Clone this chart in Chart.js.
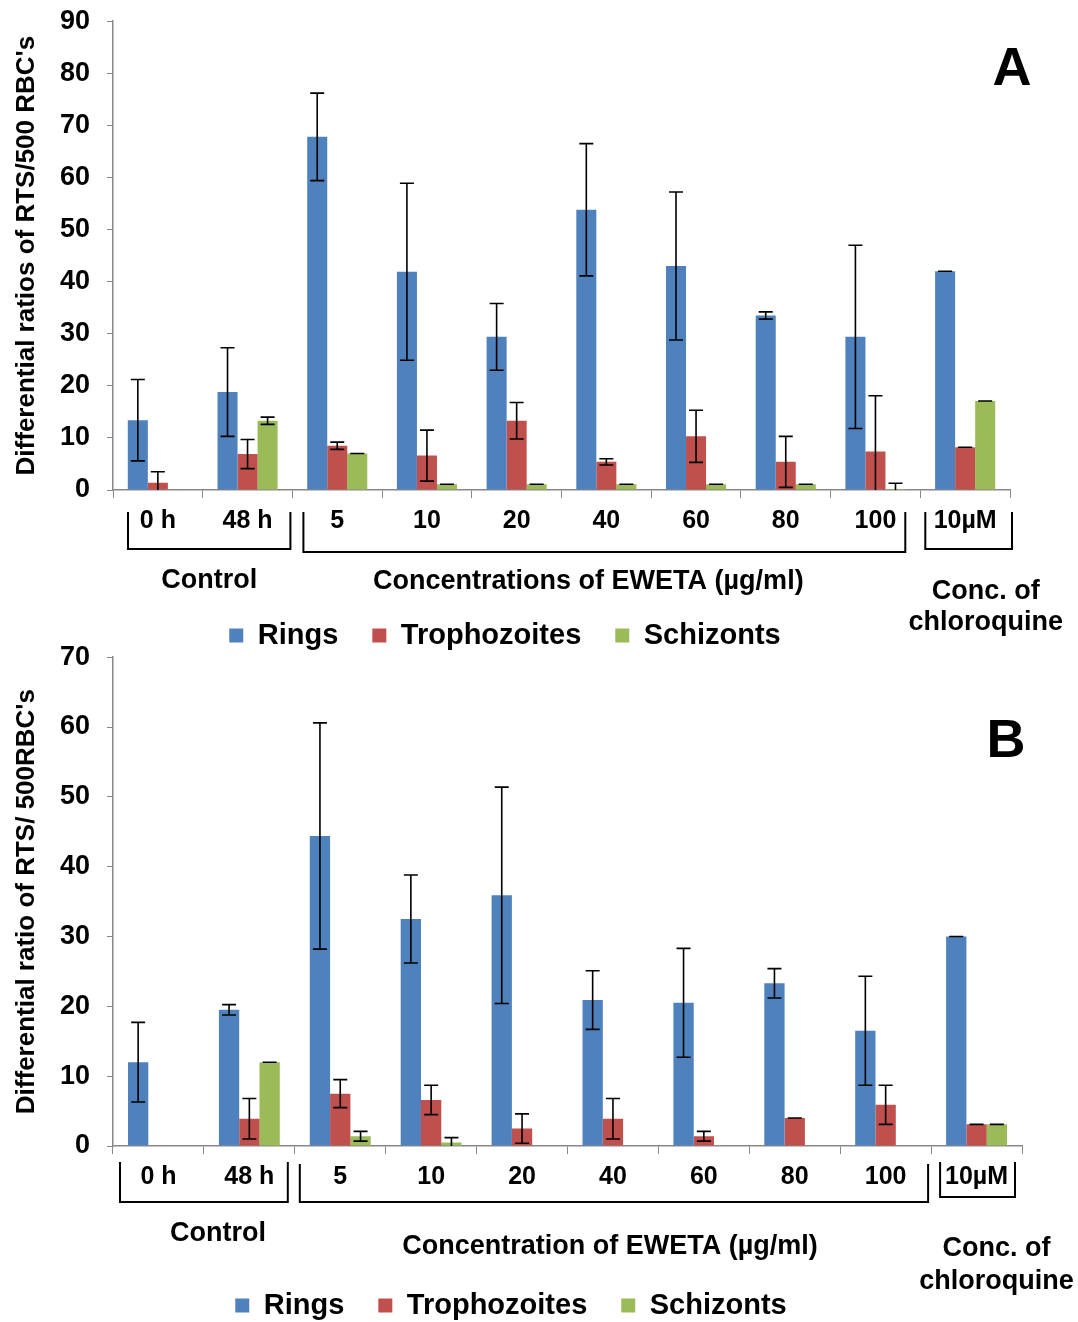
<!DOCTYPE html>
<html>
<head>
<meta charset="utf-8">
<script src="https://cdn.jsdelivr.net/npm/chart.js@4.4.0/dist/chart.umd.min.js"></script>
<style>
  html, body { margin: 0; padding: 0; background: #fff; overflow: hidden; width: 1078px; height: 1322px; }
  .panel { position: absolute; left: 0; width: 1078px; }
  #boxA { top: -12px; height: 672px; }
  #boxB { top: 624px; height: 706px; }
</style>
</head>
<body>
<div class="panel" id="boxA"><canvas id="chartA"></canvas></div>
<div class="panel" id="boxB"><canvas id="chartB"></canvas></div>
<script>
// categories (x axis)
const categories = ['0 h', '48 h', '5', '10', '20', '40', '60', '80', '100', '10µM'];
const seriesNames = ['Rings', 'Trophozoites', 'Schizonts'];

// panel A values + error (SD)
const ringsA     = [13.4, 18.8, 67.8, 41.9, 29.4, 53.8, 43.0, 33.5, 29.4, 42.0];
const ringsErrA  = [7.8, 8.5, 8.4, 17.0, 6.4, 12.7, 14.2, 0.7, 17.6, 0];
const trophA     = [1.4, 6.9, 8.5, 6.6, 13.3, 5.4, 10.3, 5.4, 7.4, 8.2];
const trophErrA  = [2.1, 2.8, 0.7, 4.9, 3.5, 0.6, 5.0, 4.9, 10.7, 0];
const schizA     = [0, 13.3, 7.0, 1.1, 1.1, 1.1, 1.1, 1.1, 0.2, 17.1];
const schizErrA  = [0, 0.7, 0, 0, 0, 0, 0, 0, 1.1, 0];

// panel B values + error (SD)
const ringsB     = [12.0, 19.5, 44.4, 32.5, 35.9, 20.9, 20.5, 23.3, 16.5, 30.0];
const ringsErrB  = [5.7, 0.75, 16.2, 6.3, 15.5, 4.2, 7.8, 2.1, 7.8, 0];
const trophB     = [0, 3.9, 7.5, 6.6, 2.5, 3.9, 1.4, 4.0, 5.9, 3.1];
const trophErrB  = [0, 2.9, 2.0, 2.1, 2.1, 2.9, 0.7, 0, 2.8, 0];
const schizB     = [0, 12.0, 1.4, 0.5, 0, 0, 0, 0, 0, 3.1];
const schizErrB  = [0, 0, 0.7, 0.7, 0, 0, 0, 0, 0, 0];

// group brackets under the axis
const groupSpans  = [[0, 1], [2, 8], [9, 9]];
const groupNamesA = [['Control'], ['Concentrations of EWETA (µg/ml)'], ['Conc. of', 'chloroquine']];
const groupNamesB = [['Control'], ['Concentration of EWETA (µg/ml)'], ['Conc. of', 'chloroquine']];

const yTitleA = "Differential ratios of RTS/500 RBC's";
const yTitleB = "Differential ratio of RTS/ 500RBC's";

const colors = ['#4F81BD', '#C0504D', '#9BBB59'];
const FONT = 'Arial, "Liberation Sans", sans-serif';

const errorBars = {
  id: 'errorBars',
  afterDatasetsDraw(chart) {
    const ctx = chart.ctx, y = chart.scales.y, area = chart.chartArea;
    ctx.save();
    ctx.beginPath();
    ctx.rect(area.left, 0, area.width, area.bottom);
    ctx.clip();
    ctx.strokeStyle = '#000';
    ctx.lineWidth = 1.6;
    chart.data.datasets.forEach((ds, i) => {
      chart.getDatasetMeta(i).data.forEach((bar, j) => {
        const v = ds.data[j], e = ds.errors[j];
        if (!v && !e) return;
        const top = y.getPixelForValue(v + e), bot = y.getPixelForValue(v - e);
        ctx.beginPath();
        ctx.moveTo(bar.x, top); ctx.lineTo(bar.x, bot);
        ctx.moveTo(bar.x - 7, top); ctx.lineTo(bar.x + 7, top);
        ctx.moveTo(bar.x - 7, bot); ctx.lineTo(bar.x + 7, bot);
        ctx.stroke();
      });
    });
    ctx.restore();
  }
};

const brackets = {
  id: 'brackets',
  afterDraw(chart, args, opts) {
    const ctx = chart.ctx, x = chart.scales.x, base = chart.chartArea.bottom;
    const step = x.width / chart.data.labels.length;
    const edge = i => x.left + i * step;
    ctx.save();
    ctx.strokeStyle = '#000';
    ctx.fillStyle = '#000';
    ctx.lineWidth = 2;
    ctx.textAlign = 'center';
    ctx.textBaseline = 'middle';
    ctx.font = 'bold 27px ' + FONT;
    groupSpans.forEach((span, k) => {
      const s = opts.style[k];
      const l = edge(span[0]) + s.inL, r = edge(span[1] + 1) - s.inR;
      ctx.beginPath();
      ctx.moveTo(l, base + s.top);
      ctx.lineTo(l, base + s.bottom);
      ctx.lineTo(r, base + s.bottom);
      ctx.lineTo(r, base + s.top);
      ctx.stroke();
      opts.names[k].forEach((t, n) => ctx.fillText(t, (l + r) / 2 + s.dx, base + s.dy[n]));
    });
    ctx.font = 'bold 54px ' + FONT;
    ctx.fillText(opts.letter, opts.letterX, opts.letterY);
    ctx.restore();
  }
};

function makeChart(id, d, p) {
  const datasets = [d.rings, d.troph, d.schiz].map((vals, i) => ({
    label: seriesNames[i],
    data: vals,
    errors: [d.ringsErr, d.trophErr, d.schizErr][i],
    backgroundColor: colors[i],
    categoryPercentage: 0.67,
    barPercentage: 1
  }));
  return new Chart(document.getElementById(id), {
    type: 'bar',
    data: { labels: categories, datasets },
    plugins: [errorBars, brackets],
    options: {
      responsive: true,
      maintainAspectRatio: false,
      animation: false,
      layout: { padding: { top: 8, right: p.padRight, left: 0, bottom: 0 } },
      plugins: {
        tooltip: { enabled: false },
        legend: {
          position: 'bottom',
          labels: {
            color: '#000',
            font: { family: FONT, size: 29, weight: 'bold' },
            boxWidth: 14, boxHeight: 14,
            padding: 34
          }
        },
        brackets: p.brackets
      },
      scales: {
        x: {
          afterFit: s => { s.height = p.xHeight; },
          grid: { drawOnChartArea: false, drawTicks: true, tickLength: 8, color: '#888', offset: true },
          border: { color: '#888', width: 1.5 },
          ticks: {
            color: '#000', padding: 8, autoSkip: false, maxRotation: 0,
            font: { family: FONT, size: 25, weight: 'bold' }
          }
        },
        y: {
          min: 0, max: p.yMax,
          afterFit: s => { s.width = 113; },
          grid: { drawOnChartArea: false, drawTicks: true, tickLength: 6, color: '#888' },
          border: { color: '#888', width: 1.5 },
          ticks: {
            stepSize: 10, color: '#000', padding: 17,
            font: { family: FONT, size: 27, weight: 'bold' }
          },
          title: {
            display: true, text: p.yTitle, color: '#000',
            padding: { top: 11, bottom: 0 },
            font: { family: FONT, size: 26, weight: 'bold' }
          }
        }
      }
    }
  });
}

makeChart('chartA',
  { rings: ringsA, ringsErr: ringsErrA, troph: trophA, trophErr: trophErrA, schiz: schizA, schizErr: schizErrA },
  {
    yMax: 90, yTitle: yTitleA, padRight: 68, xHeight: 97,
    brackets: {
      names: groupNamesA, letter: 'A', letterX: 1012, letterY: 82,
      style: [
        { inL: 15, inR: 2, top: 22, bottom: 59, dx: 0, dy: [91] },
        { inL: 11, inR: 15, top: 22, bottom: 62, dx: -16, dy: [92] },
        { inL: 5, inR: -2, top: 22, bottom: 59, dx: 17, dy: [102, 133] }
      ]
    }
  });

makeChart('chartB',
  { rings: ringsB, ringsErr: ringsErrB, troph: trophB, trophErr: trophErrB, schiz: schizB, schizErr: schizErrB },
  {
    yMax: 70, yTitle: yTitleB, padRight: 56, xHeight: 111,
    brackets: {
      names: groupNamesB, letter: 'B', letterX: 1006, letterY: 118,
      style: [
        { inL: 7, inR: 7, top: 16, bottom: 56, dx: 14, dy: [88] },
        { inL: 5, inR: 3, top: 18, bottom: 56, dx: -4, dy: [101] },
        { inL: 9, inR: 7, top: 16, bottom: 51, dx: 19, dy: [103, 136] }
      ]
    }
  });
</script>
</body>
</html>
